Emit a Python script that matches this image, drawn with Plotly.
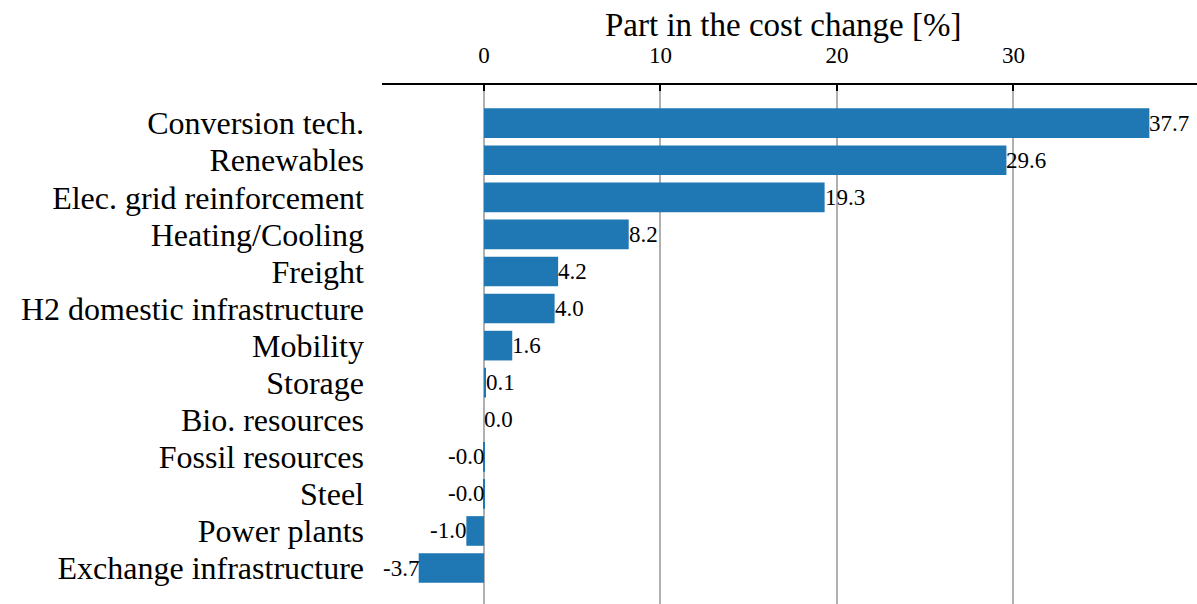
import plotly.graph_objects as go

categories = [
    "Conversion tech.", "Renewables", "Elec. grid reinforcement", "Heating/Cooling",
    "Freight", "H2 domestic infrastructure", "Mobility", "Storage",
    "Bio. resources", "Fossil resources", "Steel", "Power plants",
    "Exchange infrastructure",
]
shares = [37.7, 29.6, 19.3, 8.2, 4.2, 4.0, 1.6, 0.1, 0.0, -0.01, -0.02, -1.0, -3.7]
x_ticks = [0, 10, 20, 30]

FONT = "Liberation Serif"
positions = list(range(len(categories)))

fig = go.Figure(
    go.Bar(
        x=shares, y=positions, orientation="h",
        marker=dict(color="#1f77b4", line=dict(width=0)),
        width=0.8,
    )
)

for pos, val in zip(positions, shares):
    fig.add_annotation(
        x=val, y=pos, text=f"{val:.1f}", showarrow=False,
        xanchor="left" if val >= 0 else "right", yanchor="middle",
        font=dict(family=FONT, size=23, color="black"),
        borderpad=0, xshift=-1 if val >= 0 else 1,
    )

# axis title drawn as a paper-anchored annotation above the tick labels
fig.add_annotation(
    x=0.4926, y=1.1165, xref="paper", yref="paper",
    text="Part in the cost change [%]", showarrow=False,
    xanchor="center", yanchor="middle",
    font=dict(family=FONT, size=33, color="black"),
)

fig.update_layout(
    width=1197, height=604,
    margin=dict(l=382, r=0, t=85, b=0),
    plot_bgcolor="white", paper_bgcolor="white",
    showlegend=False,
    font=dict(family=FONT, color="black"),
    xaxis=dict(
        side="top", range=[-5.78, 40.4],
        tickvals=x_ticks, ticktext=[str(t) for t in x_ticks],
        tickfont=dict(size=23),
        showline=True, linecolor="black", linewidth=2,
        ticks="inside", ticklen=6, tickwidth=1.5, tickcolor="black",
        showgrid=True, gridcolor="#b0b0b0", gridwidth=1.5,
        zeroline=False,
        ticklabelstandoff=11,
    ),
    yaxis=dict(
        range=[12.97, -1.03],
        tickvals=positions, ticktext=categories,
        tickfont=dict(size=32),
        showline=False, showgrid=False, zeroline=False, ticks="",
        ticklabelstandoff=17,
    ),
)

fig.write_html("out.html")
